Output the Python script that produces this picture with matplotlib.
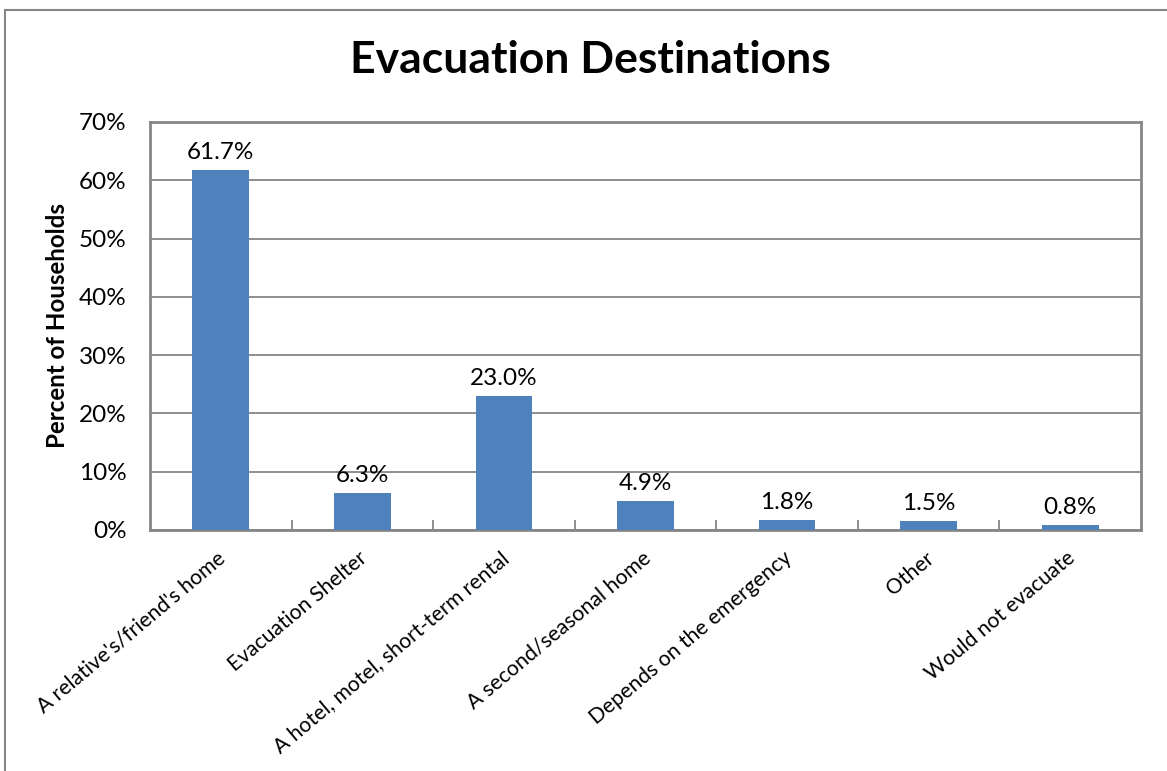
import matplotlib
matplotlib.use("Agg")
import matplotlib.pyplot as plt
import matplotlib.transforms as mtransforms
from matplotlib.lines import Line2D
from matplotlib.ticker import FuncFormatter, MultipleLocator

categories = ["A relative's/friend's home", "Evacuation Shelter",
              "A hotel, motel, short-term rental", "A second/seasonal home",
              "Depends on the emergency", "Other", "Would not evacuate"]
values = [61.7, 6.3, 23.0, 4.9, 1.8, 1.5, 0.8]

plt.rcParams['font.family'] = ['Lato', 'DejaVu Sans']

W, H = 1167, 771
fig = plt.figure(figsize=(W / 100, H / 100), dpi=100)
ax = fig.add_axes([150 / W, 1 - 530 / H, (1141 - 150) / W, (530 - 122) / H])

grey = '#868686'
x = list(range(len(categories)))
ax.bar(x, values, width=0.40, color='#4F81BD', zorder=3)
for xi, v in zip(x, values):
    ax.annotate(f"{v:.1f}%", (xi, v), xytext=(0, 5), textcoords='offset points',
                ha='center', va='bottom', fontsize=17.5)

ax.set_xlim(-0.5, len(categories) - 0.5)
ax.set_ylim(0, 70)
ax.yaxis.set_major_locator(MultipleLocator(10))
ax.yaxis.set_major_formatter(FuncFormatter(lambda v, p: f"{v:.0f}%"))
ax.grid(axis='y', color=grey, linewidth=1.3, zorder=0)
ax.tick_params(axis='y', length=0, labelsize=17.5, pad=17)

ax.set_xticks(x)
ax.set_xticklabels(categories, rotation=40, ha='right', va='top',
                   rotation_mode='anchor', fontsize=15.2)
ax.tick_params(axis='x', length=0, pad=13)
offset = mtransforms.ScaledTranslation(-4 / 100, 0, fig.dpi_scale_trans)
for lbl in ax.get_xticklabels():
    lbl.set_transform(lbl.get_transform() + offset)
ax.set_xticks([i + 0.5 for i in range(len(categories) - 1)], minor=True)
ax.tick_params(axis='x', which='minor', direction='in', length=7, color=grey, width=1.3)

for s in ax.spines.values():
    s.set_color(grey)
    s.set_linewidth(2)

ax.set_ylabel("Percent of Households", fontsize=17.4, fontweight='bold', labelpad=7)
fig.text(590 / W, 1 - 60 / H, "Evacuation Destinations", ha='center', va='center',
         fontsize=32, fontweight='bold')

fig.add_artist(Line2D([5 / W, 5 / W], [0, 1 - 10 / H], transform=fig.transFigure,
                      color=grey, linewidth=1.5))
fig.add_artist(Line2D([5 / W, 1], [1 - 10 / H, 1 - 10 / H], transform=fig.transFigure,
                      color=grey, linewidth=1.5))

fig.savefig("out.png", dpi=100, facecolor='white')
